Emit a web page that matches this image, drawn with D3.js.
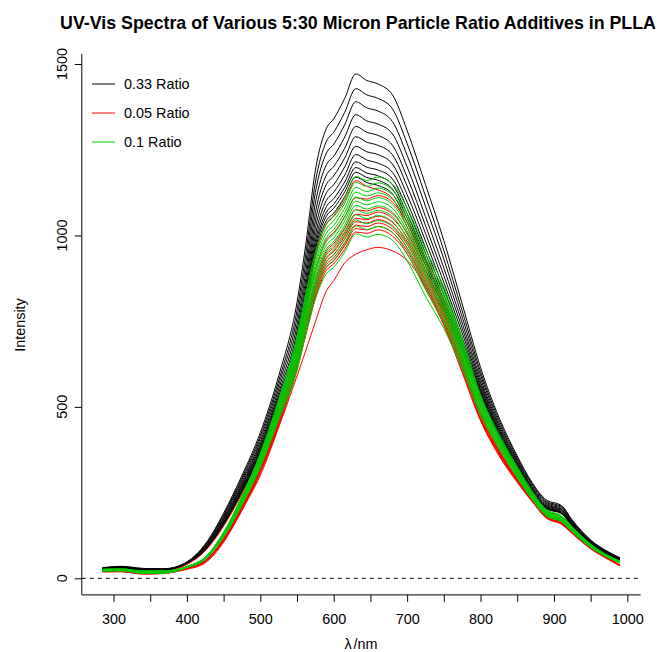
<!DOCTYPE html>
<html>
<head>
<meta charset="utf-8">
<script src="https://cdn.jsdelivr.net/npm/d3@7"></script>
<style>
  body { margin: 0; background: #fff; }
  svg { display: block; font-family: "Liberation Sans", Arial, sans-serif; }
</style>
</head>
<body>
<div id="chart"></div>
<script>
// wavelength grid (nm) shared by every spectrum
const wavelength = [285, 310, 340, 370, 400, 425, 450, 475, 500, 525, 550, 562, 575, 590, 600, 615, 630, 645, 660, 680, 700, 725, 750, 775, 800, 825, 850, 870, 890, 910, 925, 950, 975, 990];

// 0.33 ratio spectra (black)
const ratio033 = [
  [30, 34, 28, 28, 48, 100, 190, 300, 425, 590, 805, 975, 1190, 1312, 1340, 1400, 1471, 1452, 1442, 1410, 1306, 1148, 985, 800, 615, 470, 357, 280, 228, 213, 170, 112, 76, 60],
  [27, 31, 25, 26, 47, 97, 185, 293, 416, 576, 782, 947, 1155, 1274, 1301, 1359, 1428, 1410, 1400, 1369, 1268, 1115, 956, 780, 603, 462, 351, 276, 224, 210, 167, 110, 75, 59],
  [31, 35, 29, 27, 47, 95, 181, 287, 408, 564, 761, 921, 1125, 1240, 1266, 1323, 1390, 1372, 1363, 1332, 1234, 1085, 931, 762, 593, 454, 346, 272, 221, 207, 165, 109, 74, 58],
  [26, 30, 24, 25, 46, 93, 176, 281, 399, 552, 740, 896, 1094, 1206, 1231, 1287, 1352, 1334, 1325, 1296, 1200, 1055, 905, 745, 582, 447, 341, 267, 218, 203, 162, 107, 73, 57],
  [29, 33, 27, 28, 46, 91, 172, 275, 392, 541, 721, 874, 1066, 1176, 1201, 1254, 1318, 1301, 1292, 1263, 1170, 1029, 883, 730, 573, 441, 337, 264, 215, 201, 160, 106, 72, 57],
  [25, 29, 23, 24, 45, 89, 169, 270, 385, 532, 705, 854, 1042, 1149, 1174, 1226, 1288, 1272, 1263, 1235, 1144, 1006, 863, 716, 565, 435, 333, 261, 212, 199, 158, 104, 71, 56],
  [30, 33, 28, 27, 45, 87, 165, 266, 380, 523, 690, 836, 1020, 1124, 1148, 1200, 1260, 1244, 1236, 1208, 1119, 984, 844, 702, 558, 430, 329, 258, 210, 196, 157, 103, 70, 55],
  [27, 31, 25, 25, 44, 86, 163, 262, 374, 514, 676, 819, 1000, 1102, 1126, 1176, 1236, 1220, 1211, 1184, 1097, 964, 827, 691, 551, 425, 326, 255, 208, 194, 155, 102, 69, 55],
  [28, 32, 26, 26, 44, 84, 160, 258, 370, 508, 665, 805, 983, 1084, 1107, 1156, 1215, 1199, 1191, 1165, 1079, 948, 814, 682, 546, 421, 323, 253, 206, 193, 154, 101, 69, 54],
  [26, 29, 24, 24, 44, 83, 158, 255, 366, 502, 655, 794, 969, 1068, 1091, 1140, 1198, 1182, 1174, 1148, 1063, 934, 802, 674, 541, 417, 321, 251, 205, 191, 153, 101, 68, 54],
  [29, 32, 27, 27, 43, 82, 157, 253, 363, 498, 648, 785, 958, 1056, 1079, 1127, 1184, 1169, 1161, 1135, 1051, 924, 793, 667, 537, 415, 319, 250, 204, 190, 152, 100, 68, 54],
  [27, 30, 25, 25, 43, 82, 155, 251, 360, 493, 640, 775, 946, 1043, 1065, 1113, 1170, 1154, 1146, 1121, 1038, 913, 783, 661, 533, 412, 317, 248, 202, 189, 151, 99, 67, 53]
];

// 0.05 ratio spectra (red)
const ratio005 = [
  [24, 26, 20, 21, 40, 80, 152, 246, 354, 486, 632, 766, 936, 1032, 1055, 1102, 1160, 1143, 1133, 1108, 1025, 900, 770, 648, 520, 400, 305, 238, 192, 178, 142, 93, 62, 48],
  [22, 23, 17, 18, 31, 52, 117, 214, 332, 480, 670, 781, 897, 987, 1008, 1055, 1110, 1106, 1116, 1097, 1039, 928, 812, 665, 502, 386, 301, 241, 187, 169, 140, 93, 58, 39],
  [20, 21, 15, 17, 31, 51, 114, 209, 324, 468, 649, 756, 869, 955, 976, 1022, 1075, 1071, 1081, 1063, 1007, 899, 787, 644, 487, 378, 294, 236, 183, 165, 137, 91, 57, 39],
  [23, 22, 16, 18, 30, 50, 113, 207, 321, 464, 641, 747, 858, 944, 964, 1010, 1062, 1058, 1068, 1050, 994, 888, 777, 636, 482, 374, 292, 233, 181, 164, 136, 91, 56, 38],
  [18, 19, 12, 14, 29, 49, 111, 204, 317, 459, 634, 739, 848, 933, 953, 998, 1050, 1046, 1056, 1038, 983, 878, 769, 629, 477, 371, 289, 231, 180, 163, 135, 90, 56, 38],
  [22, 21, 16, 17, 30, 50, 111, 203, 315, 456, 628, 732, 840, 924, 944, 989, 1040, 1036, 1046, 1028, 974, 870, 761, 623, 473, 369, 288, 230, 179, 162, 134, 89, 56, 38],
  [20, 20, 13, 15, 29, 49, 110, 202, 313, 452, 622, 725, 832, 915, 935, 979, 1030, 1026, 1036, 1018, 964, 862, 754, 617, 469, 367, 286, 229, 177, 161, 133, 89, 55, 37],
  [22, 22, 15, 17, 29, 49, 109, 200, 310, 449, 616, 718, 824, 907, 926, 970, 1020, 1016, 1026, 1008, 955, 853, 747, 611, 465, 364, 284, 227, 176, 160, 132, 88, 55, 37],
  [21, 21, 14, 16, 29, 48, 108, 198, 308, 445, 610, 710, 816, 898, 917, 960, 1010, 1006, 1016, 998, 946, 845, 739, 605, 461, 362, 282, 226, 175, 158, 131, 87, 54, 37],
  [20, 20, 14, 16, 26, 45, 105, 200, 300, 440, 590, 665, 748, 838, 868, 920, 945, 958, 965, 955, 927, 852, 740, 600, 460, 358, 280, 224, 176, 159, 130, 86, 54, 36]
];

// 0.1 ratio spectra (green)
const ratio01 = [
  [25, 26, 22, 22, 35, 62, 135, 240, 365, 520, 705, 830, 950, 1035, 1058, 1110, 1172, 1160, 1170, 1150, 1080, 960, 850, 700, 535, 420, 325, 255, 200, 183, 150, 100, 65, 50],
  [20, 22, 17, 18, 33, 61, 133, 237, 361, 514, 695, 818, 936, 1020, 1043, 1094, 1155, 1143, 1153, 1133, 1064, 946, 838, 691, 529, 416, 322, 252, 198, 181, 149, 99, 64, 50],
  [22, 24, 19, 20, 34, 61, 132, 235, 357, 509, 686, 807, 924, 1007, 1029, 1080, 1140, 1128, 1138, 1119, 1051, 934, 827, 683, 523, 412, 319, 250, 196, 180, 147, 98, 64, 49],
  [27, 28, 21, 21, 34, 60, 131, 233, 354, 504, 677, 797, 913, 994, 1017, 1066, 1126, 1115, 1124, 1105, 1038, 922, 817, 676, 518, 409, 316, 248, 195, 178, 146, 97, 63, 49],
  [24, 25, 17, 18, 33, 59, 129, 230, 350, 499, 669, 788, 901, 982, 1004, 1053, 1112, 1101, 1110, 1091, 1025, 911, 806, 668, 513, 405, 313, 246, 193, 176, 145, 96, 63, 48],
  [26, 27, 20, 19, 33, 59, 128, 228, 347, 495, 662, 779, 892, 971, 993, 1042, 1100, 1089, 1098, 1079, 1014, 901, 798, 662, 509, 402, 311, 244, 191, 175, 144, 96, 62, 48],
  [23, 24, 16, 17, 33, 58, 127, 226, 344, 490, 654, 770, 882, 961, 982, 1030, 1088, 1077, 1086, 1068, 1003, 891, 789, 655, 504, 399, 309, 242, 190, 174, 143, 95, 62, 48],
  [25, 26, 19, 20, 33, 58, 126, 224, 341, 486, 647, 761, 871, 949, 970, 1018, 1075, 1064, 1073, 1055, 991, 881, 780, 648, 500, 396, 306, 240, 188, 172, 141, 94, 61, 47],
  [22, 23, 15, 16, 32, 57, 125, 222, 337, 480, 638, 751, 859, 936, 957, 1004, 1060, 1049, 1058, 1040, 977, 868, 769, 640, 494, 392, 303, 238, 187, 171, 140, 93, 61, 47],
  [24, 25, 18, 18, 32, 57, 123, 219, 333, 475, 629, 740, 847, 923, 943, 990, 1045, 1034, 1043, 1025, 963, 856, 758, 631, 488, 388, 300, 236, 185, 169, 139, 92, 60, 46],
  [21, 22, 14, 15, 32, 56, 122, 216, 329, 469, 618, 728, 833, 908, 928, 974, 1028, 1017, 1026, 1009, 947, 842, 746, 622, 483, 384, 297, 233, 183, 167, 137, 91, 59, 46],
  [23, 24, 17, 17, 31, 55, 120, 213, 323, 461, 605, 712, 815, 888, 907, 952, 1005, 995, 1003, 986, 926, 823, 729, 610, 474, 378, 293, 230, 180, 165, 135, 90, 59, 45]
];

const seriesNames = ["0.33 Ratio", "0.05 Ratio", "0.1 Ratio"];
const seriesColors = ["#000000", "#ff0000", "#00cd00"];
const xTicks = [300, 350, 400, 450, 500, 550, 600, 650, 700, 750, 800, 850, 900, 950, 1000];
const yTicks = [0, 500, 1000, 1500];

const W = 660, H = 652;
const fs = 14.4;
const svg = d3.select("#chart").append("svg")
    .attr("width", W)
    .attr("height", H);
svg.append("rect").attr("width", W).attr("height", H).attr("fill", "#fff");

// plot region follows R's 4% axis extension
const x = d3.scaleLinear().domain([256.8, 1018.2]).range([81.8, 640.7]);
const y = d3.scaleLinear().domain([-48.4, 1529.4]).range([594.9, 53.9]);

const line = d3.line()
    .x((d, i) => x(wavelength[i]))
    .y(d => y(d))
    .curve(d3.curveMonotoneX);

[ratio033, ratio005, ratio01].forEach((group, gi) => {
    svg.append("g")
        .selectAll("path")
        .data(group)
        .join("path")
        .attr("d", line)
        .attr("fill", "none")
        .attr("stroke", seriesColors[gi])
        .attr("stroke-width", 1);
});

// zero reference line
svg.append("line")
    .attr("x1", x.range()[0]).attr("x2", x.range()[1])
    .attr("y1", y(0)).attr("y2", y(0))
    .attr("stroke", "#000")
    .attr("stroke-dasharray", "4,4");

// L-shaped box
svg.append("path")
    .attr("d", `M${x.range()[0]},${y.range()[1]}V${y.range()[0]}H${x.range()[1]}`)
    .attr("fill", "none")
    .attr("stroke", "#000");

// x axis
const xAxis = svg.append("g")
    .attr("transform", `translate(0,${y.range()[0]})`)
    .call(d3.axisBottom(x)
        .tickValues(xTicks)
        .tickSize(7)
        .tickSizeOuter(0)
        .tickPadding(12)
        .tickFormat(d => d % 100 === 0 ? d : ""));
xAxis.select(".domain").remove();
xAxis.selectAll("text")
    .attr("font-size", fs)
    .attr("font-family", "Liberation Sans, Arial, sans-serif")
    .attr("fill", "#000");

// y axis with rotated labels
const yAxis = svg.append("g")
    .attr("transform", `translate(${x.range()[0]},0)`)
    .call(d3.axisLeft(y)
        .tickValues(yTicks)
        .tickSize(7)
        .tickSizeOuter(0)
        .tickFormat(""));
yAxis.select(".domain").remove();
svg.append("g").selectAll("text")
    .data(yTicks)
    .join("text")
    .attr("transform", d => `translate(67,${y(d)}) rotate(-90)`)
    .attr("text-anchor", "middle")
    .attr("font-size", fs)
    .text(d => d);

// titles
svg.append("text")
    .attr("x", 358).attr("y", 29)
    .attr("text-anchor", "middle")
    .attr("font-size", 17.8)
    .attr("font-weight", "bold")
    .text("UV-Vis Spectra of Various 5:30 Micron Particle Ratio Additives in PLLA");

svg.append("text")
    .attr("transform", "translate(25,325) rotate(-90)")
    .attr("text-anchor", "middle")
    .attr("font-size", fs)
    .text("Intensity");

const xl = svg.append("text")
    .attr("x", 361).attr("y", 649)
    .attr("text-anchor", "middle")
    .attr("font-size", fs);
xl.append("tspan").text("λ");
xl.append("tspan").attr("dx", 2).text("/nm");

// legend
const legend = svg.append("g");
seriesNames.forEach((name, i) => {
    const ly = 84 + i * 29;
    legend.append("line")
        .attr("x1", 92).attr("x2", 115)
        .attr("y1", ly).attr("y2", ly)
        .attr("stroke", seriesColors[i]);
    legend.append("text")
        .attr("x", 124).attr("y", ly + 5)
        .attr("font-size", fs)
        .text(name);
});
</script>
</body>
</html>
